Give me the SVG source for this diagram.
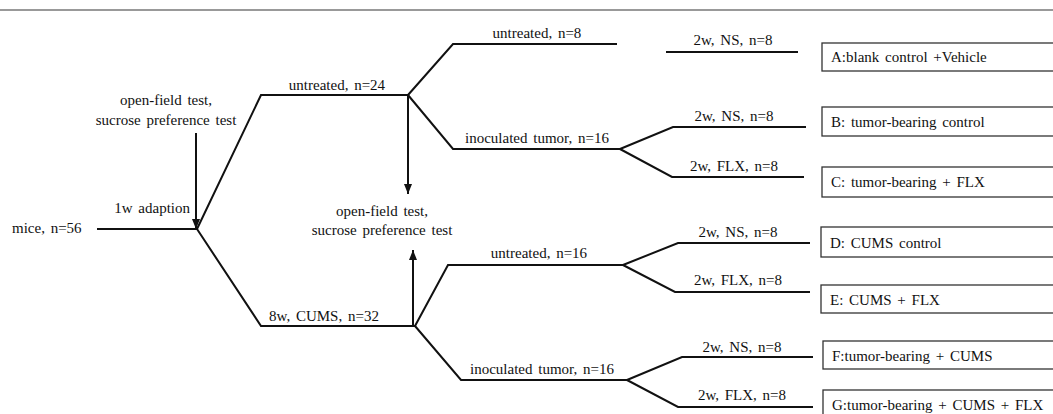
<svg xmlns="http://www.w3.org/2000/svg" width="1053" height="414" viewBox="0 0 1053 414">
<style>
text{font-family:"Liberation Serif","Times New Roman",serif;font-size:15px;fill:#111;word-spacing:2px}
.c{text-anchor:middle}
.e{text-anchor:end}
.ln{fill:none;stroke:#111;stroke-width:2;stroke-linejoin:miter}
.box{fill:#fff;stroke:#333;stroke-width:1.3}
</style>
<defs>
<marker id="ah" markerUnits="userSpaceOnUse" markerWidth="10" markerHeight="10" viewBox="0 0 10 10" refX="10" refY="5" orient="auto">
<path d="M0,1 L10,5 L0,9 Z" fill="#111"/>
</marker>
</defs>
<rect width="1053" height="414" fill="#fff"/>
<line x1="0" y1="10" x2="1053" y2="10" stroke="#777" stroke-width="1.5"/>
<g id="connectors">
<path class="ln" d="M97,229 H197"/>
<path class="ln" d="M197,229 L261,95 H408"/>
<path class="ln" d="M197,229 L261,326 H415"/>
<path class="ln" d="M196,133 V229" marker-end="url(#ah)"/>
<path class="ln" d="M408,95 V194" marker-end="url(#ah)"/>
<path class="ln" d="M408,95 L453,44 H617"/>
<path class="ln" d="M408,95 L453,149 H620"/>
<path class="ln" d="M666,52 H798"/>
<path class="ln" d="M620,149 L673,127 H806"/>
<path class="ln" d="M620,149 L672,177 H804"/>
<path class="ln" d="M413,326 V250" marker-end="url(#ah)"/>
<path class="ln" d="M415,326 L448,265 H623"/>
<path class="ln" d="M415,326 L461,380 H627"/>
<path class="ln" d="M623,265 L678,243 H810"/>
<path class="ln" d="M623,265 L675,292 H810"/>
<path class="ln" d="M627,380 L682,357 H813"/>
<path class="ln" d="M627,380 L678,407 H813"/>
</g>
<g id="labels">
<text class="c" x="166" y="105">open-field test,</text>
<text class="c" x="166" y="125">sucrose preference test</text>
<text class="e" x="190" y="213">1w adaption</text>
<text x="12" y="233">mice, n=56</text>
<text class="c" x="337" y="90">untreated, n=24</text>
<text class="c" x="324" y="321">8w, CUMS, n=32</text>
<text class="c" x="382" y="216">open-field test,</text>
<text class="c" x="382" y="235">sucrose preference test</text>
<text class="c" x="537" y="38">untreated, n=8</text>
<text class="c" x="537" y="143">inoculated tumor, n=16</text>
<text class="c" x="733" y="45">2w, NS, n=8</text>
<text class="c" x="734" y="121">2w, NS, n=8</text>
<text class="c" x="734" y="171">2w, FLX, n=8</text>
<text class="c" x="539" y="258">untreated, n=16</text>
<text class="c" x="542" y="374">inoculated tumor, n=16</text>
<text class="c" x="738" y="237">2w, NS, n=8</text>
<text class="c" x="738" y="285">2w, FLX, n=8</text>
<text class="c" x="742" y="352">2w, NS, n=8</text>
<text class="c" x="742" y="400">2w, FLX, n=8</text>
</g>
<g id="A"><rect class="box" x="822" y="43" width="240" height="28"/><text x="831" y="62">A:blank control +Vehicle</text></g>
<g id="B"><rect class="box" x="822" y="107" width="240" height="29"/><text x="831" y="127">B: tumor-bearing control</text></g>
<g id="C"><rect class="box" x="822" y="167" width="240" height="30"/><text x="831" y="187">C: tumor-bearing + FLX</text></g>
<g id="D"><rect class="box" x="821" y="227" width="240" height="30"/><text x="830" y="248">D: CUMS control</text></g>
<g id="E"><rect class="box" x="821" y="285" width="240" height="28"/><text x="830" y="305">E: CUMS + FLX</text></g>
<g id="F"><rect class="box" x="823" y="341" width="240" height="28"/><text x="832" y="361">F:tumor-bearing + CUMS</text></g>
<g id="G"><rect class="box" x="823" y="390" width="240" height="30"/><text x="832" y="410">G:tumor-bearing + CUMS + FLX</text></g>
</svg>
